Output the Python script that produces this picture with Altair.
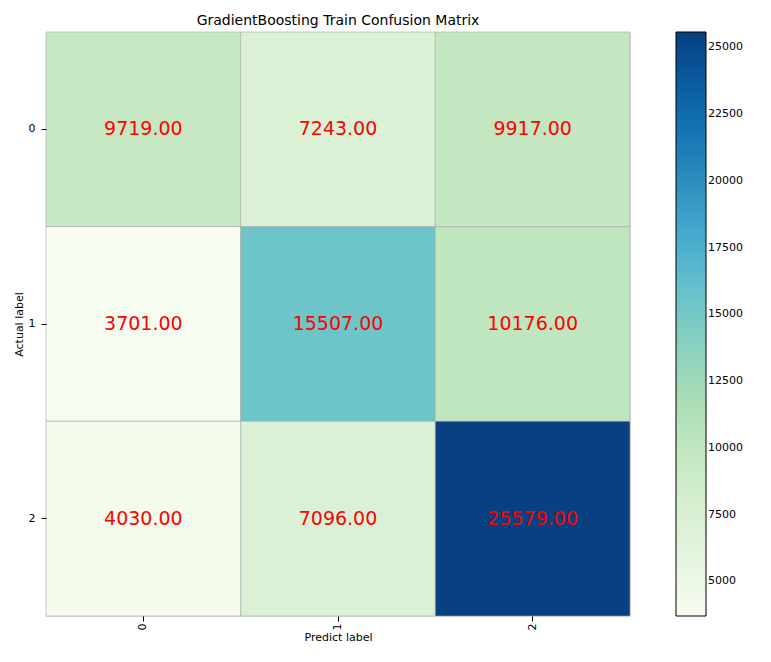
import altair as alt
import pandas as pd

actual = ["0", "0", "0", "1", "1", "1", "2", "2", "2"]
predicted = ["0", "1", "2", "0", "1", "2", "0", "1", "2"]
counts = [9719, 7243, 9917, 3701, 15507, 10176, 4030, 7096, 25579]
gnbu = ["#f7fcf0", "#e0f3db", "#ccebc5", "#a8ddb5", "#7bccc4",
        "#4eb3d3", "#2b8cbe", "#0868ac", "#084081"]

df = pd.DataFrame({"actual": actual, "predicted": predicted, "count": counts})
df["label"] = df["count"].map(lambda v: f"{v:.2f}")

base = alt.Chart(df).encode(
    x=alt.X("predicted:O", title="Predict label",
            axis=alt.Axis(labelAngle=270, labelFontSize=11, titleFontSize=11,
                          titleFontWeight="normal", tickColor="black",
                          domain=False, labelColor="black", titlePadding=2)),
    y=alt.Y("actual:O", title="Actual label",
            axis=alt.Axis(labelAngle=0, labelFontSize=11, titleFontSize=11,
                          titleFontWeight="normal", tickColor="black",
                          domain=False, labelColor="black", labelPadding=6)),
)

rects = base.mark_rect(stroke="#aaaaaa", strokeWidth=0.6).encode(
    color=alt.Color("count:Q", title=None,
                    scale=alt.Scale(range=gnbu, domain=[3701, 25579], interpolate="rgb"),
                    legend=alt.Legend(gradientLength=584, gradientThickness=30,
                                      offset=46, values=list(range(5000, 25001, 2500)),
                                      format="d", labelFontSize=11,
                                      gradientStrokeColor="black",
                                      gradientStrokeWidth=1,
                                      labelColor="black", direction="vertical"))
)

texts = base.mark_text(color="red", fontSize=19, font="DejaVu Sans").encode(text="label:N")

chart = (rects + texts).properties(
    width=584, height=584,
    title=alt.TitleParams("GradientBoosting Train Confusion Matrix", fontSize=14,
                          fontWeight="normal", font="DejaVu Sans", offset=4),
).configure_view(stroke="black", strokeWidth=1).configure(font="DejaVu Sans")

chart.save("out.html", embed_options={"renderer": "svg", "actions": False})
